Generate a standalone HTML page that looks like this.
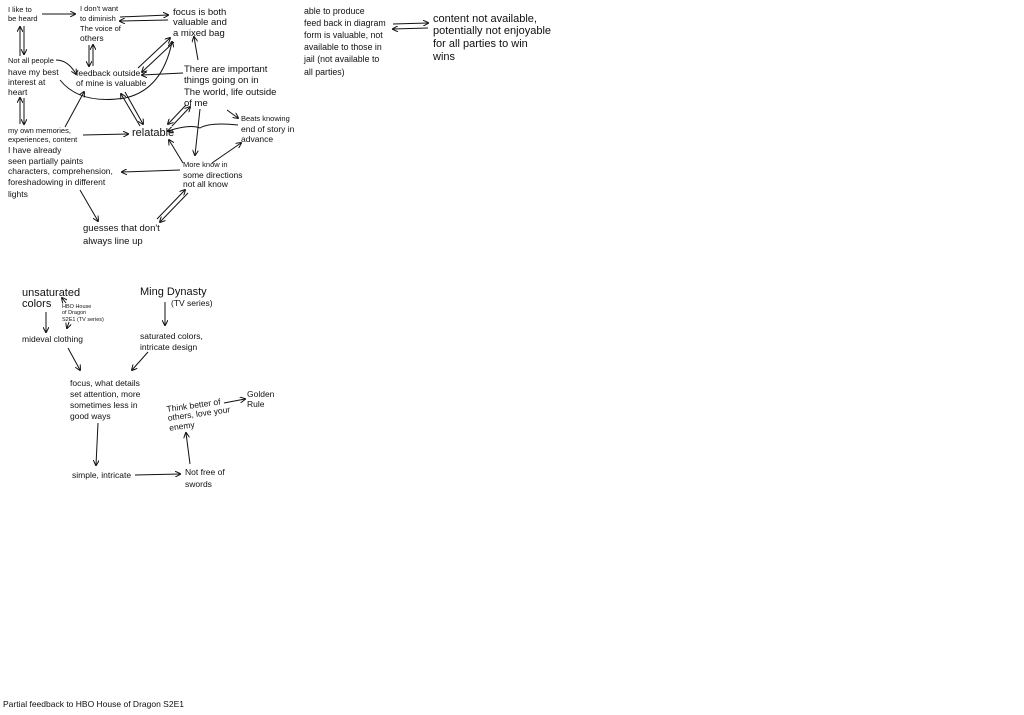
<!DOCTYPE html>
<html><head><meta charset="utf-8"><style>
html,body{margin:0;padding:0;background:#fff;width:1024px;height:715px;overflow:hidden}
svg text{font-family:"Liberation Sans",sans-serif;fill:#111}
</style></head><body>
<svg width="1024" height="715" viewBox="0 0 1024 715" xmlns="http://www.w3.org/2000/svg">
<defs><marker id="a" markerWidth="6" markerHeight="6" refX="5" refY="3" orient="auto" markerUnits="userSpaceOnUse"><path d="M0,0 L6,3 L0,6" fill="none" stroke="#111" stroke-width="1"/></marker></defs>
<g stroke="#111" stroke-width="1" fill="none" marker-end="url(#a)">
<line x1="42" y1="14" x2="75" y2="14"/>
<line x1="120" y1="17" x2="168" y2="15"/><line x1="168" y1="20" x2="120" y2="21"/>
<line x1="20" y1="56" x2="20" y2="27"/><line x1="24" y1="26" x2="24" y2="54"/>
<line x1="89" y1="45" x2="89" y2="66"/><line x1="93" y1="66" x2="93" y2="45"/>
<line x1="20" y1="124" x2="20" y2="98"/><line x1="24" y1="98" x2="24" y2="124"/>
<path d="M56,60 Q68,60 76,74"/>
<line x1="138" y1="68" x2="170" y2="38"/><line x1="174" y1="42" x2="142" y2="72"/>
<line x1="183" y1="73" x2="142" y2="75"/>
<line x1="198" y1="60" x2="194" y2="37"/>
<line x1="65" y1="127" x2="84" y2="92"/>
<line x1="83" y1="135" x2="128" y2="134"/>
<line x1="140" y1="126" x2="121" y2="94"/><line x1="125" y1="92" x2="143" y2="124"/>
<path d="M60,80 Q80,105 125,98 Q162,90 172,42" marker-end="url(#a)"/>
<line x1="172" y1="126" x2="190" y2="107"/><line x1="186" y1="105" x2="168" y2="124"/>
<path d="M200,109 L195,155"/>
<path d="M238,125 Q210,122 200,128 Q190,124 168,131"/>
<line x1="227" y1="110" x2="238" y2="118"/>
<line x1="183" y1="163" x2="169" y2="140"/>
<line x1="212" y1="163" x2="241" y2="143"/>
<line x1="180" y1="170" x2="122" y2="172"/>
<line x1="80" y1="190" x2="98" y2="221"/>
<line x1="157" y1="219" x2="185" y2="190"/><line x1="188" y1="193" x2="160" y2="222"/>
<line x1="393" y1="24" x2="428" y2="23"/><line x1="428" y1="28" x2="393" y2="29"/>
<line x1="46" y1="312" x2="46" y2="332"/>
<line x1="69" y1="322" x2="67" y2="328"/>
<line x1="66" y1="303" x2="62" y2="298"/>
<line x1="165" y1="302" x2="165" y2="325"/>
<line x1="68" y1="348" x2="80" y2="370"/>
<line x1="148" y1="352" x2="132" y2="370"/>
<line x1="98" y1="423" x2="96" y2="465"/>
<line x1="135" y1="475" x2="180" y2="474"/>
<line x1="190" y1="464" x2="186" y2="433"/>
<line x1="224" y1="403" x2="245" y2="399"/>
</g>
<g font-size="7.5">
<text x="8" y="12">I like to</text><text x="8" y="21">be heard</text>
<text x="80" y="11">I don't want</text><text x="80" y="21">to diminish</text><text x="80" y="31">The voice of</text>
<text x="8" y="63">Not all people</text>
<text x="8" y="133">my own memories,</text><text x="8" y="142">experiences, content</text>
<text x="241" y="121">Beats knowing</text>
<text x="183" y="167">More know in</text>
<text font-size="5.5" x="62" y="308">HBO House</text><text font-size="5.5" x="62" y="314">of Dragon</text><text font-size="5.5" x="62" y="321">S2E1 (TV series)</text>
</g>
<g font-size="8.5">
<text x="80" y="41">others</text>
<text x="8" y="75">have my best</text><text x="8" y="85">interest at</text><text x="8" y="95">heart</text>
<text x="76" y="76">feedback outside</text><text x="76" y="86">of mine is valuable</text>
<text x="8" y="153">I have already</text><text x="8" y="164">seen partially paints</text><text x="8" y="174">characters, comprehension,</text><text x="8" y="185">foreshadowing in different</text><text x="8" y="197">lights</text>
<text x="241" y="132">end of story in</text><text x="241" y="142">advance</text>
<text x="183" y="178">some directions</text><text x="183" y="187">not all know</text>
<text x="22" y="342">mideval clothing</text>
<text x="171" y="306">(TV series)</text>
<text x="140" y="339">saturated colors,</text><text x="140" y="350">intricate design</text>
<text x="70" y="386">focus, what details</text><text x="70" y="397">set attention, more</text><text x="70" y="408">sometimes less in</text><text x="70" y="419">good ways</text>
<g transform="rotate(-8 167 412)"><text x="167" y="412">Think better of</text><text x="167" y="421">others, love your</text><text x="167" y="431">enemy</text></g>
<text x="247" y="397">Golden</text><text x="247" y="407">Rule</text>
<text x="72" y="478">simple, intricate</text>
<text x="185" y="475">Not free of</text><text x="185" y="487">swords</text>
<text x="3" y="707">Partial feedback to HBO House of Dragon  S2E1</text>
</g>
<g font-size="9.5">
<text x="173" y="15">focus is both</text><text x="173" y="25">valuable and</text><text x="173" y="36">a mixed bag</text>
<text x="184" y="72">There are important</text><text x="184" y="83">things going on in</text><text x="184" y="95">The world, life outside</text><text x="184" y="106">of me</text>
<text x="83" y="231">guesses that don't</text><text x="83" y="244">always line up</text>
</g>
<g font-size="8.8">
<text x="304" y="14">able to produce</text><text x="304" y="26">feed back in diagram</text><text x="304" y="38">form is valuable, not</text><text x="304" y="50">available to those in</text><text x="304" y="62">jail (not available to</text><text x="304" y="75">all parties)</text>
</g>
<g font-size="11">
<text x="132" y="136">relatable</text>
<text x="433" y="22">content not available,</text><text x="433" y="34">potentially not enjoyable</text><text x="433" y="47">for all parties to win</text><text x="433" y="60">wins</text>
<text x="22" y="296">unsaturated</text><text x="22" y="307">colors</text>
<text x="140" y="295">Ming Dynasty</text>
</g>
</svg>
</body></html>
